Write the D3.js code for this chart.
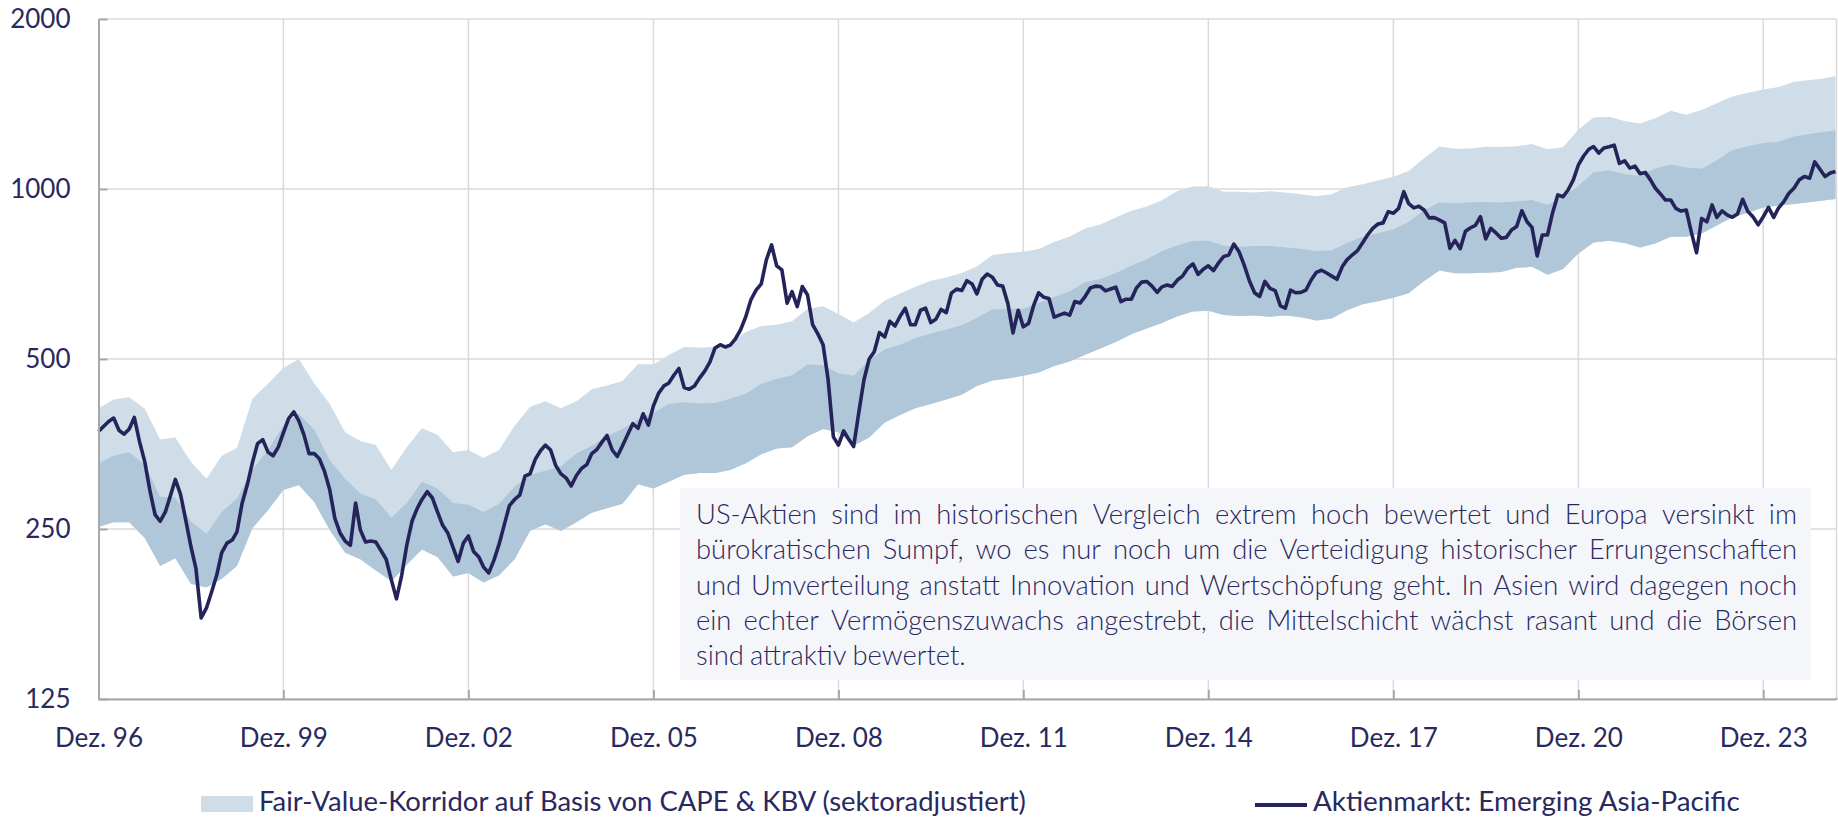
<!DOCTYPE html>
<html>
<head>
<meta charset="utf-8">
<script src="https://cdn.jsdelivr.net/npm/d3@7"></script>
<style>
  html, body { margin: 0; padding: 0; background: #fff; }
  svg { display: block; font-family: Lato, "Open Sans", sans-serif; }
</style>
</head>
<body>
<svg id="chart" width="1838" height="818"></svg>
<script>
// monthly index values, Dez. 96 .. Feb. 25
const lineStart = "1996-12";
const lineValues = [
  372, 380, 388, 393, 374, 368, 376, 394, 357, 329,
  293, 265, 258, 268, 287, 306, 288, 260, 233, 213,
  174, 181, 193, 207, 227, 236, 239, 247, 278, 299,
  328, 354, 360, 342, 337, 349, 370, 392, 403, 389,
  367, 340, 340, 333, 316, 293, 261, 246, 238, 234,
  278, 249, 237, 238, 237, 229, 221, 203, 188, 207,
  234, 258, 272, 282, 291, 284, 268, 254, 246, 232,
  219, 236, 243, 228, 223, 214, 209, 220, 235, 254,
  275, 282, 287, 310, 313, 332, 344, 352, 345, 324,
  313, 308, 298, 311, 320, 325, 340, 346, 357, 366,
  345, 336, 351, 367, 384, 377, 400, 382, 413, 435,
  448, 453, 468, 481, 445, 442, 448, 463, 476, 494,
  523, 530, 525, 529, 543, 563, 594, 636, 662, 679,
  749, 796, 731, 719, 628, 658, 619, 672, 649, 575,
  554, 530, 459, 364, 352, 373, 360, 350, 403, 459,
  500, 515, 557, 547, 583, 572, 595, 615, 575, 575,
  610, 615, 580, 588, 612, 604, 654, 665, 661, 688,
  679, 652, 692, 707, 698, 676, 673, 626, 556, 610,
  570, 578, 623, 655, 643, 640, 593, 598, 603, 598,
  632, 628, 645, 668, 673, 672, 660, 665, 670, 632,
  638, 638, 668, 684, 686, 673, 656, 671, 676, 672,
  690, 701, 724, 737, 706, 721, 731, 717, 741, 759,
  764, 799, 774, 734, 688, 655, 645, 686, 667, 661,
  621, 615, 662, 655, 656, 662, 690, 712, 718, 710,
  701, 692, 728, 749, 764, 777, 802, 829, 852, 867,
  871, 912, 906, 924, 989, 943, 926, 932, 918, 889,
  890, 881, 871, 785, 811, 784, 842, 853, 862, 893,
  816, 852, 836, 818, 821, 846, 858, 915, 875, 855,
  761, 829, 829, 907, 976, 969, 996, 1038, 1103, 1144,
  1176, 1189, 1158, 1182, 1188, 1196, 1110, 1122, 1089, 1098,
  1064, 1070, 1038, 1004, 980, 956, 956, 924, 914, 918,
  839, 771, 887, 875, 937, 891, 915, 900, 891, 903,
  959, 912, 893, 864, 893, 928, 891, 926, 950, 983,
  1004, 1038, 1052, 1045, 1117, 1084, 1052, 1067, 1074
];

// fair-value corridor, quarterly from Dez. 96, last point Feb. 25
const bandEnd = "2025-02";
const corridorUpper = [
  409, 424, 428, 408, 360, 363, 329, 307, 337, 348,
  425, 452, 482, 500, 453, 416, 371, 358, 352, 318,
  349, 377, 367, 342, 345, 334, 345, 381, 411, 421,
  409, 421, 442, 449, 457, 490, 489, 508, 525, 524,
  525, 532, 558, 572, 575, 583, 614, 620, 601, 580,
  603, 635, 653, 671, 688, 697, 710, 729, 764, 770,
  774, 783, 806, 824, 851, 865, 890, 915, 931, 955,
  992, 1010, 1011, 989, 989, 986, 991, 986, 979, 971,
  979, 1007, 1020, 1035, 1051, 1076, 1134, 1189, 1178, 1180,
  1188, 1187, 1191, 1201, 1176, 1186, 1274, 1338, 1343, 1319,
  1306, 1334, 1376, 1354, 1380, 1419, 1458, 1480, 1500, 1516,
  1548, 1559, 1570, 1585
];
const corridorMid = [
  327, 337, 342, 325, 285, 284, 258, 245, 268, 283,
  318, 345, 381, 400, 375, 331, 307, 289, 282, 262,
  278, 303, 295, 278, 276, 268, 277, 297, 312, 317,
  323, 340, 351, 365, 376, 391, 401, 416, 419, 417,
  418, 425, 434, 452, 461, 468, 489, 488, 472, 467,
  498, 520, 530, 544, 555, 564, 574, 591, 612, 614,
  614, 628, 644, 659, 684, 693, 710, 731, 751, 776,
  795, 809, 810, 794, 790, 793, 793, 788, 784, 776,
  779, 802, 822, 835, 849, 874, 918, 946, 943, 947,
  948, 946, 951, 956, 938, 968, 1012, 1071, 1079, 1062,
  1054, 1087, 1105, 1092, 1086, 1124, 1171, 1191, 1206, 1212,
  1239, 1252, 1263, 1270
];
const corridorLower = [
  252, 257, 257, 241, 215, 222, 200, 197, 204, 215,
  251, 270, 293, 299, 279, 249, 227, 221, 211, 202,
  216, 230, 223, 206, 209, 201, 207, 221, 248, 255,
  248, 257, 267, 272, 277, 300, 295, 303, 312, 314,
  314, 318, 327, 339, 347, 349, 365, 376, 371, 351,
  363, 386, 398, 409, 416, 424, 432, 448, 458, 462,
  467, 473, 486, 495, 509, 522, 536, 553, 566, 579,
  595, 607, 609, 598, 596, 597, 594, 597, 593, 585,
  590, 610, 625, 633, 642, 654, 687, 717, 709, 709,
  711, 713, 725, 728, 705, 722, 769, 804, 810, 802,
  788, 801, 823, 823, 834, 862, 891, 908, 927, 935,
  941, 947, 955, 960
];

const yTicks = [125, 250, 500, 1000, 2000];
const xTickDates = ["1996-12", "1999-12", "2002-12", "2005-12", "2008-12", "2011-12", "2014-12", "2017-12", "2020-12", "2023-12"];
const xTickLabels = ["Dez. 96", "Dez. 99", "Dez. 02", "Dez. 05", "Dez. 08", "Dez. 11", "Dez. 14", "Dez. 17", "Dez. 20", "Dez. 23"];
const legendLabels = ["Fair-Value-Korridor auf Basis von CAPE & KBV (sektoradjustiert)", "Aktienmarkt: Emerging Asia-Pacific"];
const noteLines = [
  "US-Aktien sind im historischen Vergleich extrem hoch bewertet und Europa versinkt im",
  "bürokratischen Sumpf, wo es nur noch um die Verteidigung historischer Errungenschaften",
  "und Umverteilung anstatt Innovation und Wertschöpfung geht. In Asien wird dagegen noch",
  "ein echter Vermögenszuwachs angestrebt, die Mittelschicht wächst rasant und die Börsen",
  "sind attraktiv bewertet."
];

const navy = "#24245a", textCol = "#29295e";
const lightBand = "#cfdde8", darkBand = "#b0c6d9";
const gridCol = "#dadada", axisCol = "#a8a8a8";

const svg = d3.select("#chart");
const parseMonth = d3.timeParse("%Y-%m");
const start = parseMonth(lineStart);

const plotL = 98.5, plotR = 1835.5, plotT = 19, plotB = 699;
const x = d3.scaleTime().domain([start, parseMonth(bandEnd)]).range([plotL, plotR]);
const y = d3.scaleLog().base(2).domain([125, 2000]).range([plotB, plotT]);

const lineData = lineValues.map((v, i) => ({ date: d3.timeMonth.offset(start, i), value: v }));
const bandDates = d3.range(0, 337, 3).map(i => d3.timeMonth.offset(start, i)).concat([parseMonth(bandEnd)]);
const band = bandDates.map((d, i) => ({ date: d, lo: corridorLower[i], mid: corridorMid[i], hi: corridorUpper[i] }));

// grid
const grid = svg.append("g");
grid.selectAll(".hg").data(yTicks).enter().append("line")
  .attr("x1", plotL).attr("x2", plotR + 1)
  .attr("y1", d => y(d)).attr("y2", d => y(d))
  .attr("stroke", gridCol).attr("stroke-width", 1.5);
grid.selectAll(".vg").data(xTickDates.slice(1)).enter().append("line")
  .attr("x1", d => x(parseMonth(d))).attr("x2", d => x(parseMonth(d)))
  .attr("y1", plotT).attr("y2", plotB)
  .attr("stroke", gridCol).attr("stroke-width", 1.5);
grid.append("line")
  .attr("x1", plotR + 1).attr("x2", plotR + 1).attr("y1", plotT).attr("y2", plotB)
  .attr("stroke", gridCol).attr("stroke-width", 1.5);

// corridor
const areaOuter = d3.area().x(d => x(d.date)).y0(d => y(d.lo)).y1(d => y(d.hi));
const areaInner = d3.area().x(d => x(d.date)).y0(d => y(d.lo)).y1(d => y(d.mid));
svg.append("path").datum(band).attr("d", areaOuter).attr("fill", lightBand);
svg.append("path").datum(band).attr("d", areaInner).attr("fill", darkBand);

// index line
const line = d3.line().x(d => x(d.date)).y(d => y(d.value));
svg.append("path").datum(lineData)
  .attr("d", line)
  .attr("fill", "none")
  .attr("stroke", navy)
  .attr("stroke-width", 3.6)
  .attr("stroke-linejoin", "round");

// axes
const yAxis = svg.append("g")
  .attr("transform", `translate(${plotL},0)`)
  .call(d3.axisLeft(y).tickValues(yTicks).tickFormat(d3.format("d"))
    .tickSizeInner(-9).tickSizeOuter(0).tickPadding(28));
const xAxis = svg.append("g")
  .attr("transform", `translate(0,${plotB})`)
  .call(d3.axisBottom(x).tickValues(xTickDates.map(parseMonth)).tickFormat((d, i) => xTickLabels[i])
    .tickSizeInner(-9).tickSizeOuter(0).tickPadding(30));

[yAxis, xAxis].forEach(a => {
  a.select(".domain").attr("stroke", axisCol).attr("stroke-width", 2);
  a.selectAll(".tick line").attr("stroke", axisCol).attr("stroke-width", 2);
  a.selectAll(".tick text")
    .attr("fill", textCol)
    .attr("font-size", 26)
    .attr("font-family", "Lato, 'Open Sans', sans-serif");
});
xAxis.append("line")
  .attr("x1", plotR).attr("x2", plotR + 2)
  .attr("stroke", axisCol).attr("stroke-width", 2);

// annotation box
const note = svg.append("g");
note.append("rect")
  .attr("x", 680).attr("y", 488)
  .attr("width", 1131).attr("height", 192)
  .attr("fill", "#f5f6fa");

const noteLeft = 696, noteRight = 1797, noteY = 524, noteStep = 35.25;
// pick the size so the unjustified last line matches the reference width
const probe = note.append("text").attr("font-size", 28).attr("font-weight", 300).text(noteLines[4]);
const noteSize = 28 * 272 / probe.node().getComputedTextLength();
probe.remove();

noteLines.forEach((ln, li) => {
  const words = ln.split(" ");
  const nodes = words.map(w => note.append("text")
    .attr("font-size", noteSize)
    .attr("font-weight", 300)
    .attr("fill", textCol)
    .attr("y", noteY + li * noteStep)
    .text(w));
  const widths = nodes.map(n => n.node().getComputedTextLength());
  const last = li === noteLines.length - 1;
  const gap = last ? noteSize * 0.22 : (noteRight - noteLeft - d3.sum(widths)) / (words.length - 1);
  let cx = noteLeft;
  nodes.forEach((n, i) => { n.attr("x", cx); cx += widths[i] + gap; });
});

// legend
const legend = svg.append("g");
legend.append("rect")
  .attr("x", 201).attr("y", 796).attr("width", 52).attr("height", 16)
  .attr("fill", lightBand);
legend.append("line")
  .attr("x1", 1255).attr("x2", 1307).attr("y1", 805).attr("y2", 805)
  .attr("stroke", navy).attr("stroke-width", 4);

const legendX = [259, 1313], legendW = [767, 427];
legendLabels.forEach((t, i) => {
  const txt = legend.append("text")
    .attr("x", legendX[i]).attr("y", 811)
    .attr("fill", textCol)
    .attr("font-size", 26)
    .text(t);
  const w = txt.node().getComputedTextLength();
  txt.attr("font-size", 26 * legendW[i] / w);
});
</script>
</body>
</html>
